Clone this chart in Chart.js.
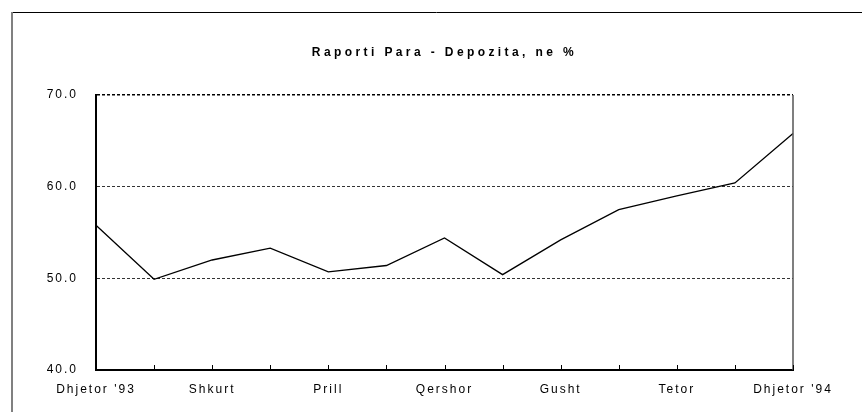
<!DOCTYPE html>
<html>
<head>
<meta charset="utf-8">
<script src="https://cdn.jsdelivr.net/npm/chart.js@4/dist/chart.umd.min.js"></script>
<style>
  html, body { margin: 0; padding: 0; background: #fff; }
</style>
</head>
<body>
<canvas id="chart" width="862" height="412"></canvas>
<script>
// Raporti para / depozita, Dhjetor '93 - Dhjetor '94
const chartTitle = 'Raporti Para - Depozita, ne %';
const months = ["Dhjetor '93", 'Janar', 'Shkurt', 'Mars', 'Prill', 'Maj', 'Qershor',
                'Korrik', 'Gusht', 'Shtator', 'Tetor', 'Nentor', "Dhjetor '94"];
const ratio = [55.8, 49.9, 52.0, 53.3, 50.7, 51.4, 54.4, 50.4, 54.2, 57.5, 59.0, 60.4, 65.8];
const yMin = 40;
const yMax = 70;
const yStep = 10;

const FONT = "'Liberation Sans', Arial, sans-serif";

// outer frame + letter spacing for axis text
const framePlugin = {
    id: 'frame',
    beforeDraw(chart) {
        const ctx = chart.ctx;
        ctx.save();
        ctx.strokeStyle = '#000';
        ctx.lineWidth = 1;
        ctx.beginPath();
        ctx.moveTo(11, 12.5);
        ctx.lineTo(chart.width, 12.5);
        ctx.stroke();
        ctx.strokeStyle = '#808080';
        ctx.lineWidth = 2;
        ctx.beginPath();
        ctx.moveTo(12, 12);
        ctx.lineTo(12, chart.height);
        ctx.stroke();
        ctx.restore();
        ctx.letterSpacing = '2px';
    },
    afterDraw(chart) {
        chart.ctx.letterSpacing = '0px';
    }
};

// right border of plot area + small inward tick marks on the x axis
const plotBoxPlugin = {
    id: 'plotBox',
    afterDatasetsDraw(chart) {
        const ctx = chart.ctx;
        const area = chart.chartArea;
        const x = chart.scales.x;
        ctx.save();
        ctx.strokeStyle = '#555';
        ctx.lineWidth = 1.5;
        ctx.beginPath();
        ctx.moveTo(area.right, area.top);
        ctx.lineTo(area.right, area.bottom);
        ctx.stroke();
        ctx.strokeStyle = '#000';
        ctx.lineWidth = 1;
        x.ticks.forEach((t, i) => {
            const px = Math.round(x.getPixelForTick(i)) + 0.5;
            ctx.beginPath();
            ctx.moveTo(px, area.bottom - 5);
            ctx.lineTo(px, area.bottom);
            ctx.stroke();
        });
        ctx.restore();
    }
};

// spaced-out bold title above the plot
const titlePlugin = {
    id: 'spacedTitle',
    afterDraw(chart) {
        const ctx = chart.ctx;
        const area = chart.chartArea;
        ctx.save();
        ctx.letterSpacing = '3.4px';
        ctx.font = 'bold 12px ' + FONT;
        ctx.fillStyle = '#000';
        ctx.textAlign = 'center';
        ctx.textBaseline = 'middle';
        ctx.fillText(chartTitle, (area.left + area.right) / 2, area.top - 42);
        ctx.restore();
    }
};

new Chart(document.getElementById('chart'), {
    type: 'line',
    data: {
        labels: months,
        datasets: [{
            label: chartTitle,
            data: ratio,
            borderColor: '#000',
            borderWidth: 1.3,
            pointRadius: 0,
            tension: 0,
            fill: false
        }]
    },
    options: {
        responsive: false,
        animation: false,
        layout: { padding: { top: 95, right: 69, bottom: 0, left: 0 } },
        plugins: {
            legend: { display: false },
            title: { display: false },
            tooltip: { enabled: false }
        },
        scales: {
            x: {
                offset: false,
                grid: { display: true, drawOnChartArea: false, drawTicks: false },
                border: { display: true, color: '#000', width: 2 },
                ticks: {
                    autoSkip: false,
                    maxRotation: 0,
                    padding: 12,
                    color: '#000',
                    font: { family: FONT, size: 12 },
                    callback: (v, i) => (i % 2 === 0 ? months[i] : '')
                },
                afterFit: (s) => { s.height = 42; }
            },
            y: {
                min: yMin,
                max: yMax,
                grid: {
                    color: (c) => (c.tick && c.tick.value === yMax ? '#000' : '#333'),
                    lineWidth: (c) => (c.tick && c.tick.value === yMax ? 1.5 : 1),
                    drawTicks: false
                },
                border: { display: true, color: '#000', width: 2, dash: [3, 2] },
                ticks: {
                    stepSize: yStep,
                    padding: 18,
                    color: '#000',
                    font: { family: FONT, size: 12 },
                    callback: (v) => v.toFixed(1)
                },
                afterFit: (s) => { s.width = 96; }
            }
        }
    },
    plugins: [framePlugin, plotBoxPlugin, titlePlugin]
});
</script>
</body>
</html>
